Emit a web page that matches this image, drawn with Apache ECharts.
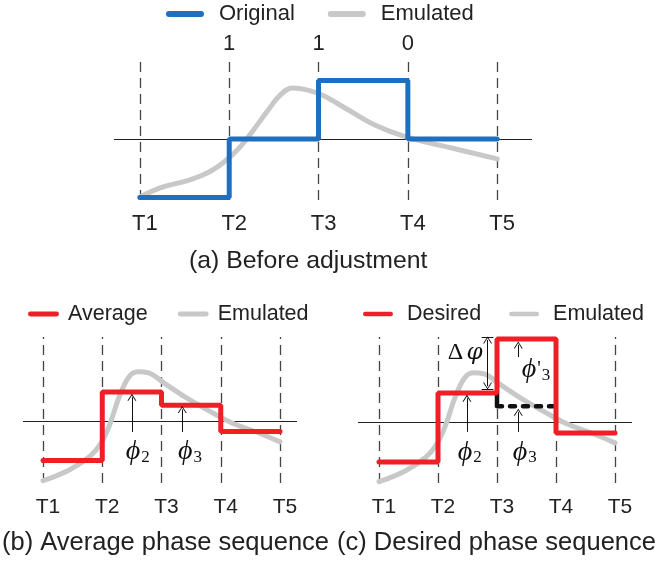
<!DOCTYPE html>
<html>
<head>
<meta charset="utf-8">
<script src="https://cdn.jsdelivr.net/npm/echarts@6/dist/echarts.min.js"></script>
<style>
  html, body { margin: 0; padding: 0; background: #fff; }
  #chart { width: 660px; height: 561px; }
</style>
</head>
<body>
<div id="chart"></div>
<script>
// time marks and their labels
const tPositions = [1, 2, 3, 4, 5]
const tLabels = ['T1', 'T2', 'T3', 'T4', 'T5']
const bitPositions = [2, 3, 4]
const bitLabels = ['1', '1', '0']

// phase level held in each interval T1-T2 ... T4-T5
const originalLevels = [-1, 0, 1, 0]
const averageLevels = [-0.68, 0.5, 0.27, -0.18]
const desiredLevels = [-0.69, 0.5, 1.43, -0.19]

// emulated response
const emulatedA = [
  [1, -0.99], [1.26, -0.82], [1.56, -0.7], [1.78, -0.56], [1.97, -0.36],
  [2.12, -0.14], [2.27, 0.15], [2.42, 0.46], [2.57, 0.75], [2.71, 0.87],
  [2.87, 0.84], [3.04, 0.75], [3.33, 0.5], [3.63, 0.24], [3.99, 0.03],
  [4.45, -0.14], [5, -0.34]
]
const emulatedBC = [
  [1, -1.03], [1.45, -0.84], [1.8, -0.6], [1.98, -0.38], [2.13, -0.05],
  [2.28, 0.4], [2.45, 0.76], [2.6, 0.85], [2.78, 0.83], [3.05, 0.65],
  [3.45, 0.38], [3.9, 0.12], [4.2, -0.04], [4.6, -0.19], [5, -0.36]
]

// annotation arrows (x, tail, head) and labels, in axis units
const arrowsB = [
  { x: 2.5, from: -0.19, to: 0.41 },
  { x: 3.35, from: -0.19, to: 0.2 }
]
const labelsB = [
  { x: 2.6, y: -0.53, text: '{p|ϕ}{s|2}' },
  { x: 3.48, y: -0.53, text: '{p|ϕ}{s|3}' }
]
const arrowsC = [
  { x: 2.49, from: -0.17, to: 0.41 },
  { x: 3.36, from: -0.17, to: 0.17 },
  { x: 3.36, from: 1.12, to: 1.33 }
]
const deltaArrow = { x: 2.84, top: 1.466, bottom: 0.569 }
const labelsC = [
  { x: 2.54, y: -0.52, text: '{p|ϕ}{s|2}' },
  { x: 3.47, y: -0.52, text: '{p|ϕ}{s|3}' },
  { x: 3.66, y: 0.9, text: '{p|ϕ}{q|\'}{s|3}' },
  { x: 2.46, y: 1.19, text: '{d|Δ} {v|φ}' }
]

const FONT = 'Liberation Sans, Arial, sans-serif'
const INK = '#222'
const BLUE = '#1f6fbf'
const RED = '#ee1f26'
const GRAY = '#c8c8c8'
const CHEVRON = 'path://M0,10 L5,0 L10,10 L8.8,10 L5,2.4 L1.2,10 Z'
const PILL = 'path://M3,0 L35,0 A3,3 0 0 1 35,6 L3,6 A3,3 0 0 1 3,0 Z'

function stepData (levels) {
  const pts = levels.map((v, i) => [tPositions[i], v])
  pts.push([tPositions[tPositions.length - 1], levels[levels.length - 1]])
  return pts
}

function guideLines () {
  const dashed = tPositions.map(t => ({
    xAxis: t,
    lineStyle: { type: [10, 6], color: '#444', width: 1.3 }
  }))
  dashed.push({ yAxis: 0, lineStyle: { type: 'solid', color: INK, width: 1 } })
  return {
    silent: true,
    symbol: 'none',
    z: 1,
    label: { show: false },
    emphasis: { disabled: true },
    data: dashed
  }
}

function arrowLines (arrows, extra) {
  const data = arrows.map(a => [
    { coord: [a.x, a.from], symbol: 'none' },
    { coord: [a.x, a.to], symbol: CHEVRON, symbolSize: [9, 7] }
  ])
  return {
    silent: true,
    z: 6,
    symbol: 'none',
    label: { show: false },
    emphasis: { disabled: true },
    lineStyle: { color: '#111', width: 1, type: 'solid' },
    itemStyle: { color: '#111' },
    data: data.concat(extra || [])
  }
}

const phiRich = {
  p: { fontFamily: 'Liberation Serif', fontStyle: 'italic', fontSize: 28, color: '#111' },
  s: { fontFamily: 'Liberation Serif', fontSize: 17, color: '#111', verticalAlign: 'bottom', padding: [0, 0, 0, 1] },
  q: { fontFamily: 'Liberation Serif', fontSize: 20, color: '#111', verticalAlign: 'top', padding: [4, 0, 0, 1] },
  d: { fontFamily: 'Liberation Serif', fontSize: 24, color: '#111' },
  v: { fontFamily: 'DejaVu Serif', fontStyle: 'italic', fontSize: 23, color: '#111' }
}

function labelPoints (labels) {
  return {
    silent: true,
    z: 6,
    symbol: 'rect',
    symbolSize: 1,
    itemStyle: { color: 'transparent' },
    label: { show: true, position: 'inside', formatter: '{c}', rich: phiRich },
    data: labels.map(l => ({ coord: [l.x, l.y], value: l.text }))
  }
}

function tAxis (grid, min, max, size, margin) {
  return {
    gridIndex: grid,
    type: 'value',
    min,
    max,
    position: 'bottom',
    axisLine: { show: false, onZero: false },
    axisTick: { show: false },
    splitLine: { show: false },
    axisLabel: {
      customValues: tPositions,
      formatter: v => tLabels[tPositions.indexOf(v)],
      margin,
      fontSize: size,
      color: INK,
      fontFamily: FONT,
      padding: [0, 0, 0, 10]
    }
  }
}

const deltaCaps = [deltaArrow.top, deltaArrow.bottom].map(y => [
  { coord: [deltaArrow.x - 0.1, y], symbol: 'none' },
  { coord: [deltaArrow.x + 0.1, y], symbol: 'none' }
])
deltaCaps.push([
  { coord: [deltaArrow.x, deltaArrow.top - 0.05], symbol: CHEVRON, symbolSize: [9, 7] },
  { coord: [deltaArrow.x, deltaArrow.bottom + 0.05], symbol: CHEVRON, symbolSize: [9, 7] }
])

const legendBase = {
  selectedMode: false,
  padding: 0,
  itemHeight: 6,
  icon: PILL,
  itemStyle: { borderWidth: 0 }
}

const option = {
  animation: false,
  backgroundColor: '#fff',
  title: [
    { text: '(a) Before adjustment', left: 189, top: 249, size: 24.8 },
    { text: '(b) Average phase sequence', left: 2, top: 530, size: 25.5 },
    { text: '(c) Desired phase sequence', left: 337, top: 530, size: 25.5 }
  ].map(t => ({
    text: t.text,
    left: t.left,
    top: t.top,
    padding: 0,
    textStyle: { fontSize: t.size, fontWeight: 'normal', color: INK, fontFamily: FONT }
  })),
  legend: [
    Object.assign({}, legendBase, {
      left: 166, top: 3, itemWidth: 38, itemGap: 33,
      data: ['Original', 'Emulated'],
      textStyle: { fontSize: 22, color: INK, fontFamily: FONT, padding: [0, 0, 0, 10] }
    }),
    Object.assign({}, legendBase, {
      left: 28, top: 303, itemWidth: 31, itemGap: 30,
      data: ['Average', 'Emulated'],
      textStyle: { fontSize: 21.5, color: INK, fontFamily: FONT, padding: [0, 0, 0, 4] }
    }),
    Object.assign({}, legendBase, {
      left: 363, top: 303, itemWidth: 30, itemGap: 28,
      data: ['Desired', 'Emulated'],
      textStyle: { fontSize: 21.5, color: INK, fontFamily: FONT, padding: [0, 0, 0, 9] }
    })
  ],
  grid: [
    { left: 114, top: 60, width: 418, height: 140 },
    { left: 23, top: 337, width: 274, height: 146 },
    { left: 358, top: 337, width: 274, height: 146 }
  ],
  xAxis: [
    tAxis(0, 0.71, 5.39, 22, 13),
    {
      gridIndex: 0,
      type: 'value',
      min: 0.71,
      max: 5.39,
      position: 'top',
      axisLine: { show: false, onZero: false },
      axisTick: { show: false },
      splitLine: { show: false },
      axisLabel: {
        customValues: bitPositions,
        formatter: v => bitLabels[bitPositions.indexOf(v)],
        margin: 5,
        fontSize: 22,
        color: INK,
        fontFamily: FONT
      }
    },
    tAxis(1, 0.662, 5.287, 21, 14),
    tAxis(2, 0.644, 5.288, 21, 14)
  ],
  yAxis: [
    { gridIndex: 0, type: 'value', min: -1.043, max: 1.35, show: false },
    { gridIndex: 1, type: 'value', min: -1.069, max: 1.448, show: false },
    { gridIndex: 2, type: 'value', min: -1.052, max: 1.466, show: false }
  ],
  series: [
    {
      name: 'Emulated', type: 'line', xAxisIndex: 0, yAxisIndex: 0,
      data: emulatedA, smooth: 0.4, symbol: 'none', z: 2, color: GRAY,
      lineStyle: { width: 5, color: GRAY, cap: 'round' },
      markLine: guideLines()
    },
    {
      name: 'Original', type: 'line', xAxisIndex: 0, yAxisIndex: 0,
      data: stepData(originalLevels), step: 'end', symbol: 'none', z: 4, color: BLUE,
      lineStyle: { width: 5, color: BLUE, cap: 'round' }
    },
    {
      name: 'Emulated', type: 'line', xAxisIndex: 2, yAxisIndex: 1,
      data: emulatedBC, smooth: 0.4, symbol: 'none', z: 2, color: GRAY,
      lineStyle: { width: 5, color: GRAY, cap: 'round' },
      markLine: guideLines()
    },
    {
      name: 'Average', type: 'line', xAxisIndex: 2, yAxisIndex: 1,
      data: stepData(averageLevels), step: 'end', symbol: 'none', z: 4, color: RED,
      lineStyle: { width: 5, color: RED, cap: 'round' },
      markLine: arrowLines(arrowsB),
      markPoint: labelPoints(labelsB)
    },
    {
      name: 'Emulated', type: 'line', xAxisIndex: 3, yAxisIndex: 2,
      data: emulatedBC, smooth: 0.4, symbol: 'none', z: 2, color: GRAY,
      lineStyle: { width: 5, color: GRAY, cap: 'round' },
      markLine: guideLines()
    },
    {
      name: 'previous', type: 'line', xAxisIndex: 3, yAxisIndex: 2,
      data: [[tPositions[2], desiredLevels[1]], [tPositions[2], averageLevels[2]]],
      symbol: 'none', z: 3, color: '#111',
      lineStyle: { width: 4.5, color: '#111' }
    },
    {
      name: 'previous', type: 'line', xAxisIndex: 3, yAxisIndex: 2,
      data: [[tPositions[2], averageLevels[2]], [3.95, averageLevels[2]]],
      symbol: 'none', z: 3, color: '#111',
      lineStyle: { width: 4.5, color: '#111', type: [5, 8], cap: 'round' }
    },
    {
      name: 'Desired', type: 'line', xAxisIndex: 3, yAxisIndex: 2,
      data: stepData(desiredLevels), step: 'end', symbol: 'none', z: 4, color: RED,
      lineStyle: { width: 5, color: RED, cap: 'round' },
      markLine: arrowLines(arrowsC, deltaCaps),
      markPoint: labelPoints(labelsC)
    }
  ]
}

const myChart = echarts.init(document.getElementById('chart'), null, { renderer: 'canvas' })
myChart.setOption(option)
</script>
</body>
</html>
